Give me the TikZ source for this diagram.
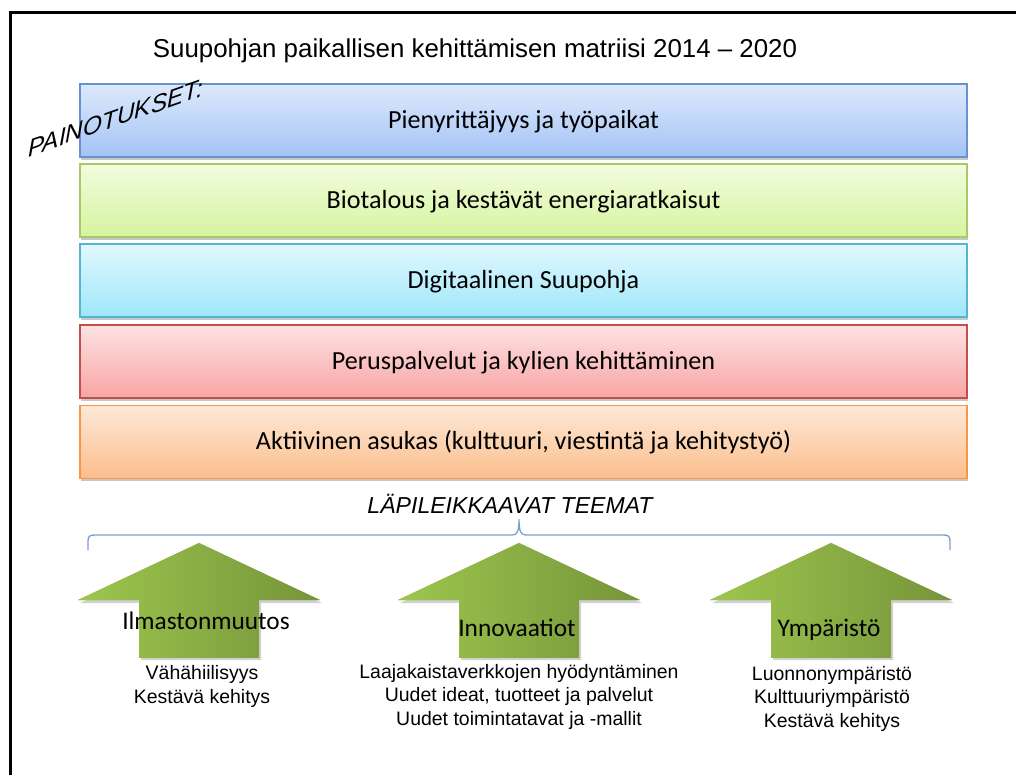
\documentclass[tikz,border=0pt]{standalone}
\usepackage{fontspec}
\setmainfont{Liberation Sans}
\newfontfamily\calibri{Carlito}
\usetikzlibrary{shadows}
\definecolor{blueT}{RGB}{221,233,252}
\definecolor{blueB}{RGB}{163,195,245}
\definecolor{blueD}{RGB}{105,145,210}
\definecolor{greenT}{RGB}{241,252,222}
\definecolor{greenB}{RGB}{214,244,158}
\definecolor{greenD}{RGB}{165,203,105}
\definecolor{cyanT}{RGB}{225,248,254}
\definecolor{cyanB}{RGB}{158,231,250}
\definecolor{cyanD}{RGB}{85,180,210}
\definecolor{redT}{RGB}{253,226,226}
\definecolor{redB}{RGB}{248,164,164}
\definecolor{redD}{RGB}{192,80,77}
\definecolor{oranT}{RGB}{253,233,216}
\definecolor{oranB}{RGB}{251,190,140}
\definecolor{oranD}{RGB}{247,150,70}
\definecolor{arrL}{RGB}{158,198,78}
\definecolor{arrM}{RGB}{138,173,68}
\definecolor{arrR}{RGB}{118,148,58}
\definecolor{braceC}{RGB}{122,160,208}
\tikzset{
  bar/.style={draw=#1D, line width=0.9pt, top color=#1T, bottom color=#1B,
    minimum width=665.25pt, minimum height=54.75pt, inner sep=0pt,
    text height=11.25pt, text depth=0pt,
    font=\calibri\fontsize{19.6}{23}\selectfont,
    drop shadow={shadow xshift=0.6pt, shadow yshift=-2pt, opacity=0.22, fill=black}},
  arrlabel/.style={anchor=base, inner sep=0pt, font=\calibri\fontsize{19}{23}\selectfont},
  subtext/.style={anchor=base, align=center, inner sep=0pt, font=\fontsize{14.6}{17.6}\selectfont},
  arrshadow/.style={fill=black, opacity=0.18}
}
\begin{document}
\begin{tikzpicture}[x=0.75pt,y=-0.75pt]
\useasboundingbox (0,0) rectangle (1016,775);
% frame
\draw[line width=2.3pt] (10.5,775) -- (10.5,12.5) -- (1016,12.5);
% title
\node[anchor=base, inner sep=0pt, font=\fontsize{19.4}{23}\selectfont] (title) at (475,57)
  {Suupohjan paikallisen kehittämisen matriisi 2014 – 2020};
% bars
\node[bar=blue]  (b1) at (523.5,120.5) {Pienyrittäjyys ja työpaikat};
\node[bar=green] (b2) at (523.5,200.5) {Biotalous ja kestävät energiaratkaisut};
\node[bar=cyan]  (b3) at (523.5,280.5) {Digitaalinen Suupohja};
\node[bar=red]   (b4) at (523.5,361.5) {Peruspalvelut ja kylien kehittäminen};
\node[bar=oran]  (b5) at (523.5,442) {Aktiivinen asukas (kulttuuri, viestintä ja kehitystyö)};
% PAINOTUKSET
\node[inner sep=0pt, yslant=0.35, font=\itshape\fontsize{18.3}{20}\selectfont] (pain) at (116,118) {PAINOTUKSET:};
% crosscutting title
\node[anchor=base, inner sep=0pt, font=\itshape\fontsize{17.3}{20}\selectfont] (lapi) at (510,513)
  {LÄPILEIKKAAVAT TEEMAT};
% brace
\coordinate (brL) at (88,550);
\coordinate (brR) at (950,550);
\draw[braceC, line width=1pt] (brL) -- (88,541) .. controls (88,536) and (90,535) .. (95,535)
  -- (512,535) .. controls (517,535) and (519,532) .. (519,519)
  .. controls (519,532) and (521,535) .. (526,535)
  -- (943,535) .. controls (948,535) and (950,536) .. (950,541) -- (brR);
% block arrows
\foreach \cx in {199,519,831}{
  \pgfmathsetmacro\xa{\cx-121}\pgfmathsetmacro\xb{\cx-60}
  \pgfmathsetmacro\xc{\cx+60}\pgfmathsetmacro\xd{\cx+121}
  % shadow
  \fill[arrshadow] (\cx+2,546) -- (\xd+2,603) -- (\xc+2,603) -- (\xc+2,660)
     -- (\xb+2,660) -- (\xb+2,603) -- (\xa+2,603) -- cycle;
  % head
  \path[fill=arrM, path picture={\shade[left color=arrL, right color=arrR]
      (\xa,543) rectangle (\xd,657);}]
     (\cx,543) -- (\xd,600) -- (\xa,600) -- cycle;
  % shaft
  \path[fill=arrM, path picture={\shade[left color=arrL, right color=arrR]
      (\xa,543) rectangle (\xd,657);}]
     (\xb,599.5) rectangle (\xc,657);
}
\node[arrlabel] (a1) at (206,629) {Ilmastonmuutos};
\node[arrlabel] (a2) at (517,636) {Innovaatiot};
\node[arrlabel] (a3) at (829,636) {Ympäristö};
% sub texts
\node[subtext] (s1) at (202,703) {Vähähiilisyys\\Kestävä kehitys};
\node[subtext] (s2) at (519,725) {Laajakaistaverkkojen hyödyntäminen\\Uudet ideat, tuotteet ja palvelut\\Uudet toimintatavat ja -mallit};
\node[subtext] (s3) at (832,727) {Luonnonympäristö\\Kulttuuriympäristö\\Kestävä kehitys};
\end{tikzpicture}
\end{document}
